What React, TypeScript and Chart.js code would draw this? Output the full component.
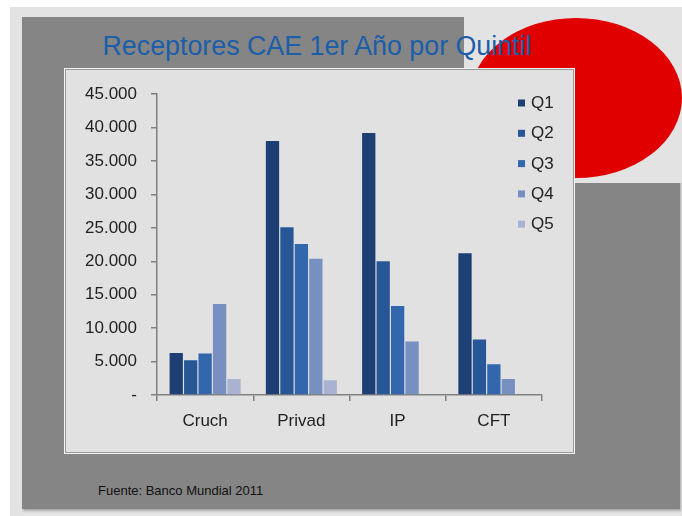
import React, { useEffect, useRef } from "react";
import { Chart, registerables } from "chart.js";

Chart.register(...registerables);

const categories = ["Cruch", "Privad", "IP", "CFT"];
const seriesNames = ["Q1", "Q2", "Q3", "Q4", "Q5"];
const q1 = [6300, 38000, 39200, 21200];
const q2 = [5200, 25100, 20000, 8300];
const q3 = [6200, 22600, 13300, 4600];
const q4 = [13600, 20400, 8000, 2400];
const q5 = [2400, 2200, 0, 0];
const seriesColors = ["#1e3f73", "#285797", "#3267ae", "#7890c1", "#a9b3d1"];
const yMin = 0;
const yMax = 45000;
const yStep = 5000;

const title = "Receptores CAE 1er Año por Quintil";
const source = "Fuente: Banco Mundial 2011";

const FONT = "'Liberation Sans', Arial, sans-serif";

function fmt(v: number): string {
  if (v === 0) return "-";
  return String(Math.round(v)).replace(/\B(?=(\d{3})+(?!\d))/g, ".");
}

const legendPlugin = {
  id: "customLegend",
  afterDraw(chart: any) {
    const ctx = chart.ctx;
    ctx.save();
    ctx.font = `17px ${FONT}`;
    ctx.textBaseline = "middle";
    ctx.textAlign = "left";
    chart.data.datasets.forEach((ds: any, i: number) => {
      const cy = 33 + i * 30.3;
      ctx.fillStyle = ds.backgroundColor;
      ctx.fillRect(452, cy - 3.5, 7, 7);
      ctx.fillStyle = "#222";
      ctx.fillText(ds.label, 465, cy + 0.5);
    });
    ctx.restore();
  },
};

export default function App() {
  const ref = useRef<HTMLCanvasElement>(null);

  useEffect(() => {
    if (!ref.current) return;
    const values = [q1, q2, q3, q4, q5];
    const chart = new Chart(ref.current, {
      type: "bar",
      data: {
        labels: categories,
        datasets: seriesNames.map((name, i) => ({
          label: name,
          data: values[i],
          backgroundColor: seriesColors[i],
          borderWidth: 0,
          categoryPercentage: 0.75,
          barPercentage: 0.92,
        })),
      },
      options: {
        animation: false,
        responsive: false,
        maintainAspectRatio: false,
        devicePixelRatio: 1,
        layout: { padding: { left: 0, top: 23, right: 31, bottom: 0 } },
        plugins: {
          legend: { display: false },
          tooltip: { enabled: false },
          title: { display: false },
        },
        scales: {
          x: {
            offset: true,
            grid: {
              display: true,
              drawOnChartArea: false,
              drawTicks: true,
              tickLength: 6,
              offset: true,
              color: "#808080",
              lineWidth: 1.5,
            },
            border: { display: true, color: "#808080", width: 1.5 },
            ticks: {
              color: "#222",
              font: { family: FONT, size: 17 },
              padding: 10,
            },
            afterFit(scale: any) {
              scale.height = 57;
            },
          },
          y: {
            min: yMin,
            max: yMax,
            grid: {
              display: true,
              drawOnChartArea: false,
              drawTicks: true,
              tickLength: 6,
              color: "#808080",
              lineWidth: 1.5,
            },
            border: { display: true, color: "#808080", width: 1.5 },
            ticks: {
              stepSize: yStep,
              color: "#222",
              font: { family: FONT, size: 17 },
              padding: 14,
              callback: (v: any) => fmt(Number(v)),
            },
            afterFit(scale: any) {
              scale.width = 91;
            },
          },
        },
      },
      plugins: [legendPlugin],
    });
    return () => chart.destroy();
  }, []);

  const abs = (s: React.CSSProperties): React.CSSProperties => ({ position: "absolute", ...s });

  return (
    <div style={abs({ left: 0, top: 0, width: 682, height: 516, background: "#ffffff", overflow: "hidden" })}>
      <div style={abs({ left: 10, top: 7, width: 672, height: 509, background: "#e3e3e3" })} />
      <div
        style={abs({
          left: 22,
          top: 17,
          width: 658,
          height: 492,
          background: "#858585",
          boxShadow: "1px 2px 2px rgba(0,0,0,0.25)",
        })}
      />
      <div style={abs({ left: 464, top: 15, width: 218, height: 168, background: "#e3e3e3" })} />
      <div
        style={abs({
          left: 470,
          top: 18,
          width: 212,
          height: 160,
          background: "#e00000",
          borderRadius: "50%",
        })}
      />
      <div
        style={abs({
          left: 0,
          top: 31,
          width: 634,
          textAlign: "center",
          fontFamily: FONT,
          fontSize: 26.8,
          lineHeight: "30px",
          color: "#1b5ea9",
          whiteSpace: "nowrap",
        })}
      >
        {title}
      </div>
      <div
        style={abs({
          left: 65,
          top: 69,
          width: 507,
          height: 382,
          background: "#e1e1e1",
          border: "1px solid #9a9a9a",
          boxShadow: "0 0 0 1px #f2f2f2",
        })}
      />
      <canvas
        ref={ref}
        width={507}
        height={382}
        style={abs({ left: 66, top: 70, width: 507, height: 382 })}
      />
      <div
        style={abs({
          left: 98,
          top: 483,
          fontFamily: FONT,
          fontSize: 13,
          lineHeight: "16px",
          color: "#111",
          whiteSpace: "nowrap",
        })}
      >
        {source}
      </div>
    </div>
  );
}
